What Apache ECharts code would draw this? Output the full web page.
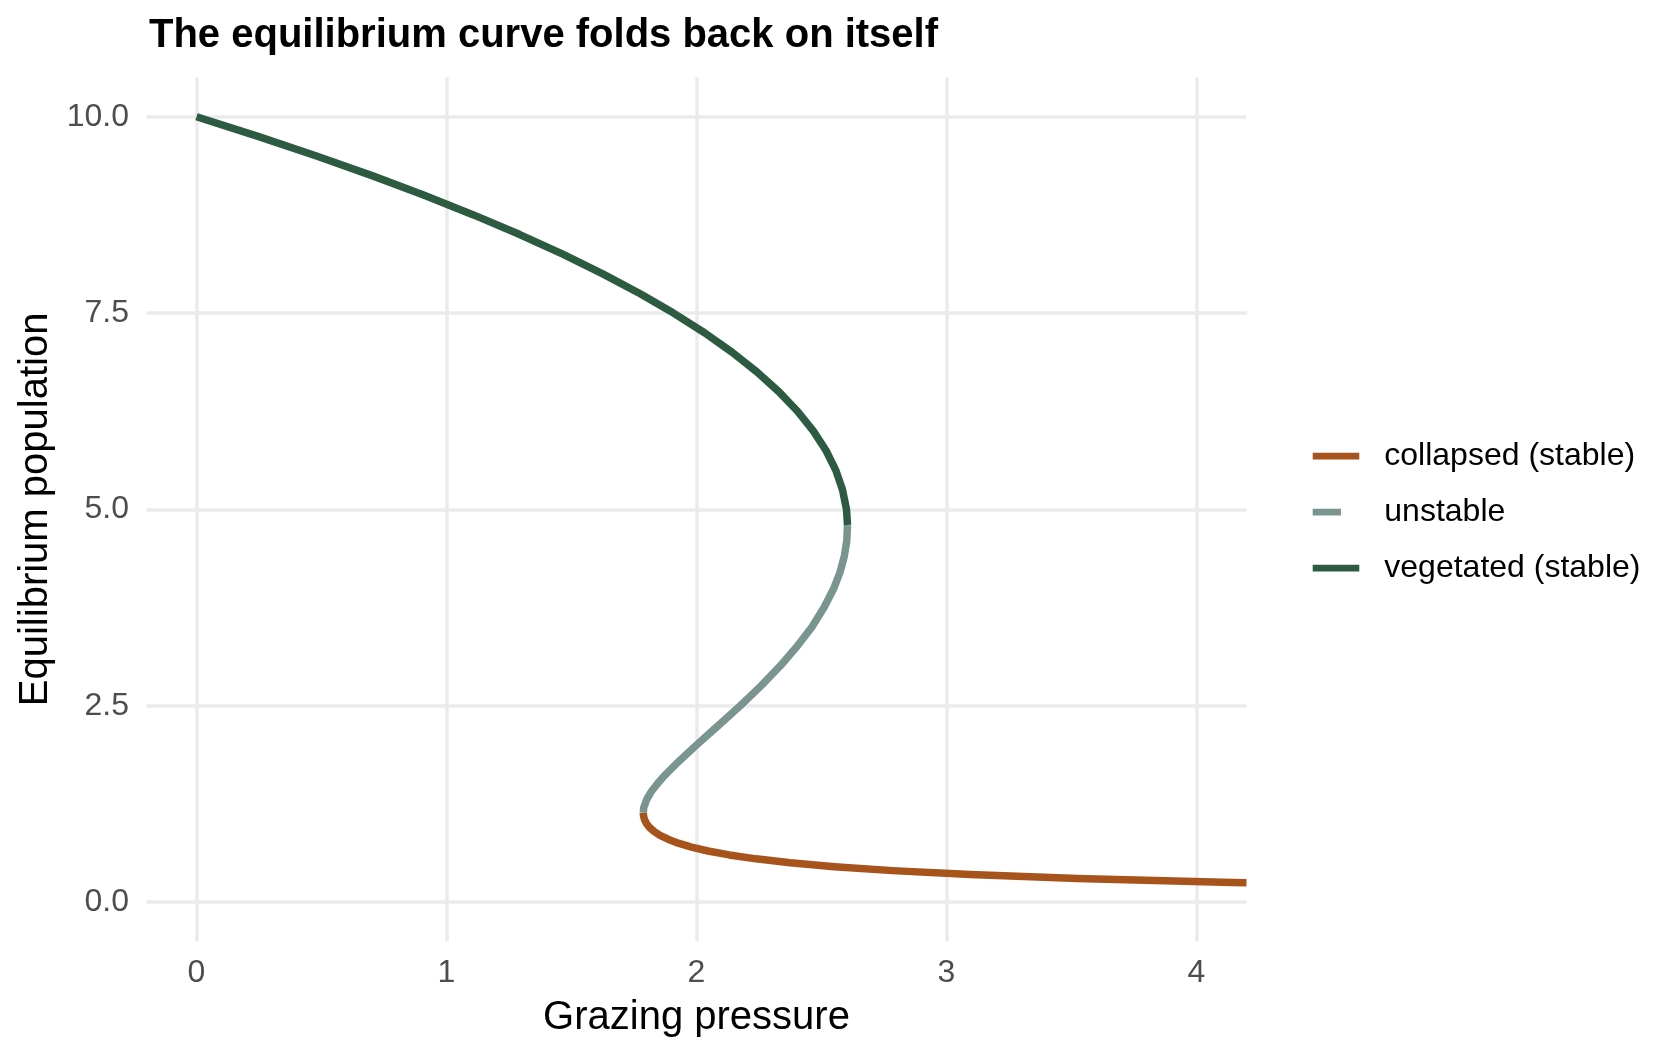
<!DOCTYPE html>
<html>
<head>
<meta charset="utf-8">
<script src="https://cdn.jsdelivr.net/npm/echarts@6/dist/echarts.min.js"></script>
<style>
html,body{margin:0;padding:0;background:#fff;}
#chart{width:1680px;height:1056px;}
</style>
</head>
<body>
<div id="chart"></div>
<script>
// ---- data ----
const seriesNames = ['collapsed (stable)', 'unstable', 'vegetated (stable)'];

// vegetated (stable) branch: grazing pressure, equilibrium population
const vegetatedX = [0, 0.246, 0.480, 0.702, 0.911, 1.108, 1.293, 1.465, 1.625, 1.773, 1.908, 2.032, 2.143, 2.242, 2.329, 2.404, 2.467, 2.518, 2.557, 2.584, 2.600, 2.604];
const vegetatedN = [10, 9.75, 9.5, 9.25, 9, 8.75, 8.5, 8.25, 8, 7.75, 7.5, 7.25, 7, 6.75, 6.5, 6.25, 6, 5.75, 5.5, 5.25, 5, 4.8];

// unstable branch
const unstableX = [2.604, 2.601, 2.591, 2.574, 2.550, 2.510, 2.461, 2.401, 2.333, 2.257, 2.175, 2.088, 2.000, 1.932, 1.869, 1.842, 1.818, 1.800, 1.789, 1.787];
const unstableN = [4.8, 4.6, 4.4, 4.2, 4.0, 3.75, 3.5, 3.25, 3.0, 2.75, 2.5, 2.25, 2.0, 1.8, 1.6, 1.5, 1.4, 1.3, 1.2, 1.14];

// collapsed (stable) branch
const collapsedX = [1.787, 1.788, 1.792, 1.800, 1.812, 1.830, 1.854, 1.886, 1.927, 1.980, 2.046, 2.131, 2.238, 2.375, 2.552, 2.784, 3.095, 3.524, 4.144, 4.200];
const collapsedN = [1.14, 1.1, 1.05, 1.0, 0.95, 0.9, 0.85, 0.8, 0.75, 0.7, 0.65, 0.6, 0.55, 0.5, 0.45, 0.4, 0.35, 0.3, 0.25, 0.246];

const xTicks = [0, 1, 2, 3, 4];
const yTicks = [0, 2.5, 5, 7.5, 10];

// ---- chart ----
const colors = {'collapsed (stable)': '#a6531c', 'unstable': '#7a958f', 'vegetated (stable)': '#2d5b41'};
const FONT = '"Liberation Sans", Arial, Helvetica, sans-serif';
const pairs = (xs, ys) => xs.map((x, i) => [x, ys[i]]);

// panel geometry
const panelLeft = 146.5, panelTop = 77.5, panelW = 1100, panelH = 863.8;
const xMin = -0.2, xMax = 4.2, yMin = -0.5, yMax = 10.5;
const pxX = panelW / (xMax - xMin), pxY = panelH / (yMax - yMin);

const gridStyle = {color: '#ebebeb', width: 3.6};

const chart = echarts.init(document.getElementById('chart'), null, {renderer: 'canvas'});

function lineSeries(name, xs, ys) {
  return {
    name: name, type: 'line', xAxisIndex: 0, yAxisIndex: 0,
    data: pairs(xs, ys), showSymbol: false, symbol: 'none',
    color: colors[name],
    lineStyle: {width: 7.5, color: colors[name], cap: 'butt', join: 'round'},
    clip: true, z: 3
  };
}

chart.setOption({
  animation: false,
  backgroundColor: '#ffffff',
  title: {
    text: 'The equilibrium curve folds back on itself',
    left: 149, top: 15.5, padding: 0,
    textStyle: {fontFamily: FONT, fontWeight: 'bold', fontSize: 40, color: '#000'}
  },
  grid: [
    {left: panelLeft, top: panelTop, width: panelW, height: panelH},
    {left: panelLeft + (xTicks[0] - xMin) * pxX, top: panelTop,
     width: (xTicks[xTicks.length - 1] - xTicks[0]) * pxX, height: panelH},
    {left: panelLeft, top: panelTop + (yMax - yTicks[yTicks.length - 1]) * pxY,
     width: panelW, height: (yTicks[yTicks.length - 1] - yTicks[0]) * pxY}
  ],
  legend: {
    orient: 'vertical', left: 1312.7, top: 440.2, padding: 0,
    itemWidth: 46.6, itemHeight: 6.7, itemGap: 24,
    selectedMode: false,
    textStyle: {fontFamily: FONT, fontSize: 32, color: '#000', lineHeight: 30, padding: [0, 0, 0, 20]},
    data: [
      {name: 'collapsed (stable)', icon: 'path://M0,0H46.6V6.7H0Z'},
      {name: 'unstable', icon: 'path://M0,0H28.3V6.7H0Z M46.5,3.3H46.6V3.4H46.5Z'},
      {name: 'vegetated (stable)', icon: 'path://M0,0H46.6V6.7H0Z'}
    ]
  },
  xAxis: [
    {gridIndex: 0, type: 'value', min: xMin, max: xMax, show: false},
    {gridIndex: 1, type: 'value', min: xTicks[0], max: xTicks[xTicks.length - 1], interval: 1,
     axisLine: {show: false}, axisTick: {show: false},
     splitLine: {show: true, lineStyle: gridStyle},
     axisLabel: {fontFamily: FONT, fontSize: 32, color: '#4d4d4d', margin: 16},
     name: 'Grazing pressure', nameLocation: 'middle', nameGap: 56.5,
     nameTextStyle: {fontFamily: FONT, fontSize: 40, color: '#000'}},
    {gridIndex: 2, type: 'value', min: 0, max: 1, show: false}
  ],
  yAxis: [
    {gridIndex: 0, type: 'value', min: yMin, max: yMax, show: false},
    {gridIndex: 1, type: 'value', min: 0, max: 1, show: false},
    {gridIndex: 2, type: 'value', min: yTicks[0], max: yTicks[yTicks.length - 1], interval: 2.5,
     axisLine: {show: false}, axisTick: {show: false},
     splitLine: {show: true, lineStyle: gridStyle},
     axisLabel: {fontFamily: FONT, fontSize: 32, color: '#4d4d4d', margin: 17.5,
                 formatter: v => v.toFixed(1)},
     name: 'Equilibrium population', nameLocation: 'middle', nameGap: 89.5,
     nameTextStyle: {fontFamily: FONT, fontSize: 40, color: '#000'}}
  ],
  series: [
    lineSeries('collapsed (stable)', collapsedX, collapsedN),
    lineSeries('unstable', unstableX, unstableN),
    lineSeries('vegetated (stable)', vegetatedX, vegetatedN)
  ]
});
</script>
</body>
</html>
